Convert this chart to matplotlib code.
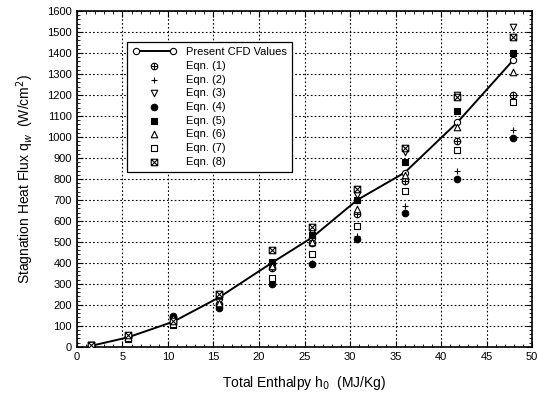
import numpy as np
import matplotlib.pyplot as plt
from matplotlib.path import Path
from matplotlib.ticker import MultipleLocator

plt.rcParams['font.family'] = ['Liberation Sans', 'DejaVu Sans']

# total enthalpy (MJ/kg)
h0 = [1.6, 5.6, 10.6, 15.6, 21.4, 25.8, 30.8, 36.0, 41.8, 47.9]

# stagnation heat flux (W/cm^2)
cfd = [5, 45, 120, 235, 400, 520, 700, 830, 1070, 1365]
eqn1 = [6, 45, 140, 205, 375, 495, 632, 790, 982, 1200]
eqn2 = [5, 40, 115, 195, 310, 400, 528, 671, 840, 1035]
eqn3 = [7, 48, 130, 215, 380, 545, 725, 930, 1200, 1525]
eqn4 = [6, 50, 145, 184, 298, 395, 513, 637, 800, 995]
eqn5 = [7, 35, 105, 245, 405, 533, 700, 883, 1124, 1401]
eqn6 = [6, 46, 135, 210, 385, 500, 657, 820, 1048, 1310]
eqn7 = [8, 40, 110, 250, 327, 441, 576, 743, 938, 1165]
eqn8 = [8, 55, 125, 250, 462, 570, 751, 946, 1192, 1478]

M, L = Path.MOVETO, Path.LINETO
circle_plus = Path.make_compound_path(
    Path.unit_circle(),
    Path([[-1, 0], [1, 0]], [M, L]),
    Path([[0, -1], [0, 1]], [M, L]))
box_x = Path.make_compound_path(
    Path([[-1, -1], [1, -1], [1, 1], [-1, 1], [-1, -1]], [M, L, L, L, L]),
    Path([[-1, -1], [1, 1]], [M, L]),
    Path([[-1, 1], [1, -1]], [M, L]))

fig = plt.figure(figsize=(5.38, 3.95), dpi=100)
ax = fig.add_axes([0.143, 0.122, 0.846, 0.850])

ax.plot(h0, cfd, color='black', lw=1.4, marker='o', ms=4.5, mfc='white',
        mec='black', mew=0.8, label='Present CFD Values', zorder=2)

series = [
    (eqn1, circle_plus, 'white', 'Eqn. (1)'),
    (eqn2, '+', 'black', 'Eqn. (2)'),
    (eqn3, 'v', 'white', 'Eqn. (3)'),
    (eqn4, 'o', 'black', 'Eqn. (4)'),
    (eqn5, 's', 'black', 'Eqn. (5)'),
    (eqn6, '^', 'white', 'Eqn. (6)'),
    (eqn7, 's', 'white', 'Eqn. (7)'),
    (eqn8, box_x, 'white', 'Eqn. (8)'),
]
for vals, mk, fc, lab in series:
    ax.scatter(h0, vals, marker=mk, s=22, facecolors=fc,
               edgecolors='black', linewidths=0.8, label=lab, zorder=3)

ax.set_xlim(0, 50)
ax.set_ylim(0, 1600)
ax.xaxis.set_major_locator(MultipleLocator(5))
ax.yaxis.set_major_locator(MultipleLocator(100))
ax.xaxis.set_minor_locator(MultipleLocator(1))
ax.yaxis.set_minor_locator(MultipleLocator(20))
ax.tick_params(which='both', direction='in', top=True, right=True, labelsize=8)
ax.tick_params(which='major', length=4)
ax.tick_params(which='minor', length=2)
ax.grid(True, which='major', color='black', linestyle=(0, (1.5, 2)), lw=0.8)
for s in ax.spines.values():
    s.set_linewidth(1.2)

ax.set_xlabel('Total Enthalpy h$_0$  (MJ/Kg)', fontsize=10, labelpad=9)
ax.set_ylabel('Stagnation Heat Flux q$_w$  (W/cm$^2$)', fontsize=10, labelpad=8)

leg = ax.legend(loc='upper left', bbox_to_anchor=(0.097, 0.925), numpoints=2,
                scatterpoints=1, fontsize=8, frameon=True, fancybox=False,
                edgecolor='black', framealpha=1, handlelength=4,
                borderpad=0.5, labelspacing=0.33)
leg.get_frame().set_linewidth(0.9)

fig.savefig('out.png', dpi=100)
